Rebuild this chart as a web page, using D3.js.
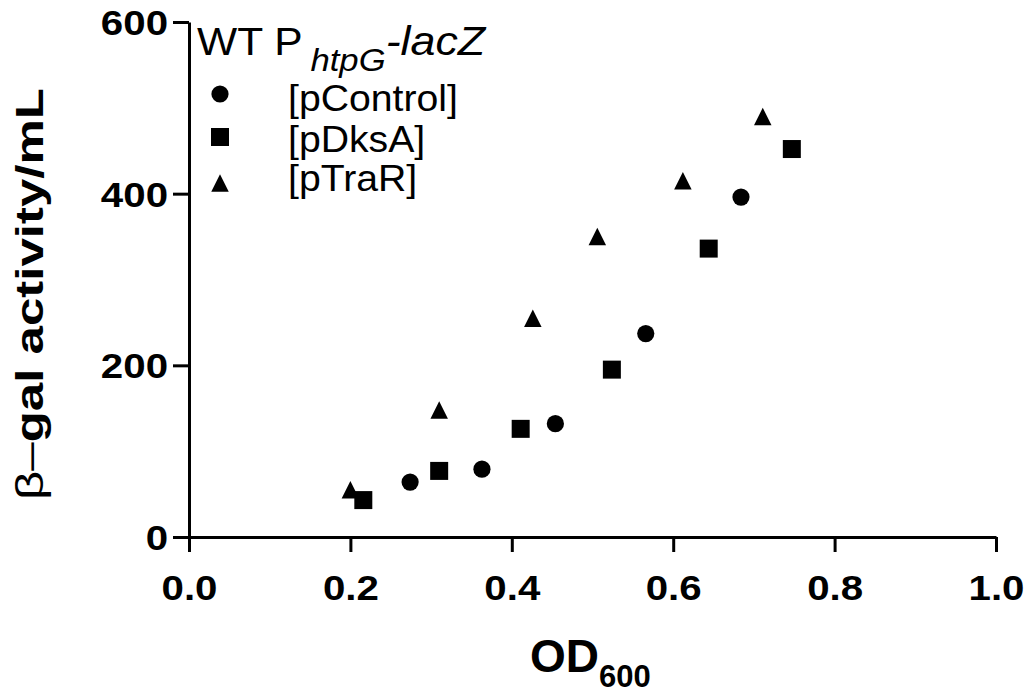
<!DOCTYPE html>
<html>
<head>
  <meta charset="utf-8">
  <title>htpG-lacZ</title>
  <script src="https://d3js.org/d3.v7.min.js"></script>
  <style>
    body { margin: 0; background: #fff; }
    text { font-family: "Liberation Sans", Arial, sans-serif; fill: #000; }
  </style>
</head>
<body>
  <script>
    // OD600 / beta-gal activity
    var controlOD = [0.274, 0.363, 0.454, 0.566, 0.684];
    var controlGal = [64, 79, 132, 237, 396];
    var dksaOD = [0.216, 0.31, 0.411, 0.524, 0.644, 0.747];
    var dksaGal = [43, 77, 126, 195, 336, 452];
    var traROD = [0.2, 0.31, 0.426, 0.506, 0.612, 0.711];
    var traRGal = [55, 148, 255, 350, 415, 490];

    var xTicks = [0, 0.2, 0.4, 0.6, 0.8, 1.0];
    var yTicks = [0, 200, 400, 600];
    var seriesNames = ["[pControl]", "[pDksA]", "[pTraR]"];

    var W = 1028, H = 694;
    var plotL = 189, plotR = 996, plotT = 22, plotB = 537;

    var svg = d3.select("body").append("svg")
      .attr("width", W)
      .attr("height", H);

    var x = d3.scaleLinear().domain([0, 1]).range([plotL, plotR]);
    var y = d3.scaleLinear().domain([0, 600]).range([plotB, plotT]);

    // custom triangle: flat base, a bit taller than equilateral
    var tri = {
      draw: function(ctx, size) {
        var h = Math.sqrt(size);
        ctx.moveTo(0, -h / 2);
        ctx.lineTo(h / 2, h / 2);
        ctx.lineTo(-h / 2, h / 2);
        ctx.closePath();
      }
    };
    var shapes = [
      d3.symbol().type(d3.symbolCircle).size(Math.PI * 8.6 * 8.6),
      d3.symbol().type(d3.symbolSquare).size(18 * 18),
      d3.symbol().type(tri).size(17.5 * 17.5)
    ];

    // axes
    var xAxis = svg.append("g")
      .attr("transform", "translate(0," + plotB + ")")
      .call(d3.axisBottom(x).tickValues(xTicks).tickFormat(d3.format(".1f"))
        .tickSize(15).tickSizeOuter(0).tickPadding(23));

    var yAxis = svg.append("g")
      .attr("transform", "translate(" + plotL + ",0)")
      .call(d3.axisLeft(y).tickValues(yTicks).tickSize(16).tickSizeOuter(0));

    [xAxis, yAxis].forEach(function(g) {
      g.select(".domain").attr("stroke", "#000").attr("stroke-width", 3);
      g.selectAll(".tick line").attr("stroke", "#000").attr("stroke-width", 3);
      g.selectAll(".tick text")
        .style("font-family", "'Liberation Sans', Arial, sans-serif")
        .style("font-size", "35px")
        .style("font-weight", "bold");
    });
    xAxis.selectAll(".tick text").attr("transform", "scale(1.15,1)");
    yAxis.selectAll(".tick text")
      .attr("x", -21 / 1.15)
      .attr("dy", "0.36em")
      .attr("transform", "scale(1.15,1)");

    // points
    var series = [
      {od: controlOD, gal: controlGal, shape: shapes[0]},
      {od: dksaOD, gal: dksaGal, shape: shapes[1]},
      {od: traROD, gal: traRGal, shape: shapes[2]}
    ];
    series.forEach(function(s) {
      svg.append("g").selectAll("path")
        .data(s.od.map(function(v, i) { return [v, s.gal[i]]; }))
        .enter().append("path")
        .attr("d", s.shape)
        .attr("fill", "#000")
        .attr("transform", function(d) {
          return "translate(" + x(d[0]) + "," + y(d[1]) + ")";
        });
    });

    // legend title
    var lt = svg.append("text")
      .attr("transform", "translate(197,55) scale(1.12,1)")
      .style("font-size", "38px");
    lt.append("tspan").text("WT P");
    lt.append("tspan").attr("dx", 7).attr("dy", 16).style("font-size", "31px")
      .style("font-style", "italic").text("htpG");
    lt.append("tspan").attr("dy", -16).style("font-size", "40px")
      .style("font-style", "italic").text("-lacZ");

    // legend entries
    var legY = [111, 152, 191];
    var markY = [94, 137, 183];
    seriesNames.forEach(function(name, i) {
      svg.append("path")
        .attr("d", shapes[i])
        .attr("fill", "#000")
        .attr("transform", "translate(220," + markY[i] + ")");
      svg.append("text")
        .attr("transform", "translate(288," + legY[i] + ") scale(1.06,1)")
        .style("font-size", "37px")
        .text(name);
    });

    // x title
    var xt = svg.append("text")
      .attr("x", 530)
      .attr("y", 672)
      .style("font-size", "46px")
      .style("font-weight", "bold");
    xt.append("tspan").text("OD");
    xt.append("tspan").attr("dy", 15).style("font-size", "31px").text("600");

    // y title
    var yt = svg.append("text")
      .attr("transform", "translate(43,294) rotate(-90)")
      .attr("text-anchor", "middle")
      .attr("textLength", 412)
      .attr("lengthAdjust", "spacingAndGlyphs")
      .style("font-size", "39px")
      .style("font-weight", "bold");
    yt.append("tspan").style("font-weight", "normal").text("β–");
    yt.append("tspan").text("gal activity/mL");
  </script>
</body>
</html>
